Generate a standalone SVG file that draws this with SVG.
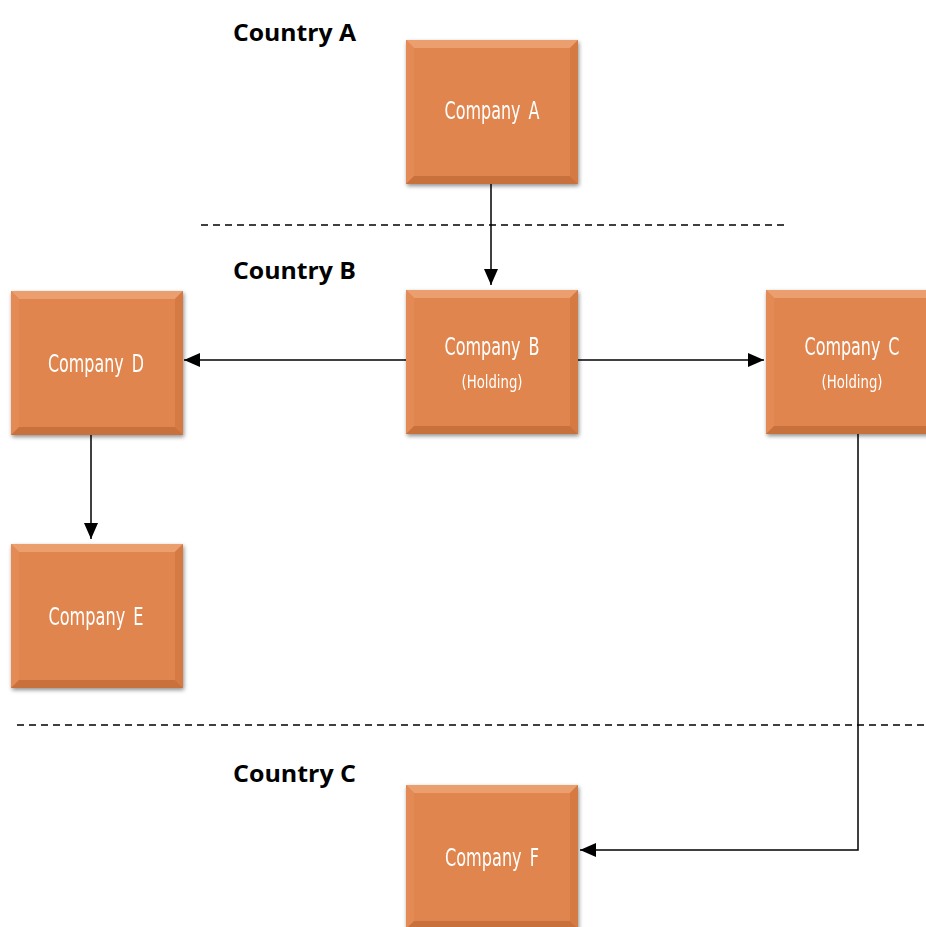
<svg xmlns="http://www.w3.org/2000/svg" width="926" height="927" viewBox="0 0 926 927">
<style>
.box{fill:#E0854D;}
.bev-t{fill:#EB9E6E;}
.bev-l{fill:#E38A54;}
.bev-r{fill:#D47A43;}
.bev-b{fill:#C9713C;}
.lbl{font-family:"DejaVu Sans Condensed","DejaVu Sans",sans-serif;font-stretch:condensed;font-size:24px;fill:#FFFFFF;text-anchor:middle;word-spacing:4px;}
.sub{font-family:"DejaVu Sans Condensed","DejaVu Sans",sans-serif;font-stretch:condensed;font-size:18px;fill:#FFFFFF;text-anchor:middle;}
.country{font-family:"Open Sans","Liberation Sans",sans-serif;font-weight:bold;font-size:24px;fill:#000000;}
.dash{stroke:#000;stroke-width:1.5;stroke-dasharray:7,5;fill:none;}
.conn{stroke:#000;stroke-width:1.5;fill:none;marker-end:url(#arr);}
</style>
<defs>
<marker id="arr" viewBox="0 0 16 14" refX="16" refY="7" markerWidth="16" markerHeight="14" markerUnits="userSpaceOnUse" orient="auto">
<path d="M0,0 L16,7 L0,14 z" fill="#000"/>
</marker>
<filter id="sh" x="-10%" y="-10%" width="130%" height="130%">
<feGaussianBlur in="SourceAlpha" stdDeviation="2"/>
<feOffset dx="1" dy="2"/>
<feComponentTransfer><feFuncA type="linear" slope="0.45"/></feComponentTransfer>
<feMerge><feMergeNode/><feMergeNode in="SourceGraphic"/></feMerge>
</filter>
<g id="bevel">
<rect x="0" y="0" width="172" height="144" class="box"/>
<polygon points="0,0 172,0 164,8 8,8" class="bev-t"/>
<polygon points="0,0 8,8 8,136 0,144" class="bev-l"/>
<polygon points="172,0 172,144 164,136 164,8" class="bev-r"/>
<polygon points="0,144 8,136 164,136 172,144" class="bev-b"/>
</g>
</defs>

<text class="country" x="233" y="41" textLength="123" lengthAdjust="spacingAndGlyphs">Country A</text>
<text class="country" x="233" y="279" textLength="123" lengthAdjust="spacingAndGlyphs">Country B</text>
<text class="country" x="233" y="782" textLength="123" lengthAdjust="spacingAndGlyphs">Country C</text>

<line class="dash" x1="201" y1="225" x2="784" y2="225"/>
<line class="dash" x1="17" y1="725" x2="926" y2="725"/>

<g id="connectors">
<path class="conn" d="M491,184 L491,285"/>
<path class="conn" d="M406,360 L184,360"/>
<path class="conn" d="M578,360 L764,360"/>
<path class="conn" d="M91,435 L91,539"/>
<path class="conn" d="M858,434 L858,850 L580,850"/>
</g>

<g id="companyA" filter="url(#sh)">
<use href="#bevel" x="406" y="40"/>
<text class="lbl" x="492" y="119" textLength="95" lengthAdjust="spacingAndGlyphs">Company A</text>
</g>
<g id="companyB" filter="url(#sh)">
<use href="#bevel" x="406" y="290"/>
<text class="lbl" x="492" y="355" textLength="95" lengthAdjust="spacingAndGlyphs">Company B</text>
<text class="sub" x="492" y="388" textLength="61" lengthAdjust="spacingAndGlyphs">(Holding)</text>
</g>
<g id="companyC" filter="url(#sh)">
<use href="#bevel" x="766" y="290"/>
<text class="lbl" x="852" y="355" textLength="95" lengthAdjust="spacingAndGlyphs">Company C</text>
<text class="sub" x="852" y="388" textLength="61" lengthAdjust="spacingAndGlyphs">(Holding)</text>
</g>
<g id="companyD" filter="url(#sh)">
<use href="#bevel" x="11" y="291"/>
<text class="lbl" x="96" y="372" textLength="96" lengthAdjust="spacingAndGlyphs">Company D</text>
</g>
<g id="companyE" filter="url(#sh)">
<use href="#bevel" x="11" y="544"/>
<text class="lbl" x="96" y="625" textLength="95" lengthAdjust="spacingAndGlyphs">Company E</text>
</g>
<g id="companyF" filter="url(#sh)">
<use href="#bevel" x="406" y="785"/>
<text class="lbl" x="492" y="866" textLength="94" lengthAdjust="spacingAndGlyphs">Company F</text>
</g>
</svg>
